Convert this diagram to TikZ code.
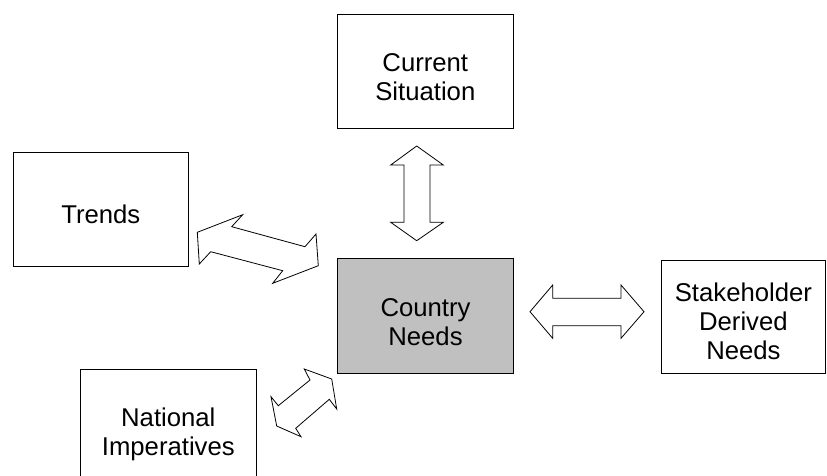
\documentclass[tikz,border=0pt]{standalone}
\usepackage{fontspec}
\setmainfont{Liberation Sans}
\definecolor{cngray}{HTML}{C0C0C0}
\begin{document}
\begin{tikzpicture}[x=1pt,y=-1pt,
  box/.style={draw=black, line width=0.8pt, rectangle, inner sep=0pt, fill=white},
  lbl/.style={inner sep=0pt, align=center, font=\fontsize{25.7}{29}\selectfont},
  blockarrow/.style={draw=black, fill=white, line width=0.8pt, line join=miter}]
\useasboundingbox (0,0) rectangle (827,475);
\fill[white] (0,0) rectangle (827,475);

% boxes
\node[box, minimum width=176pt, minimum height=114.3pt] (cur) at (425.3,71.2) {};
\node[box, minimum width=175pt, minimum height=113.3pt] (trends) at (100.8,209.4) {};
\node[box, fill=cngray, minimum width=175.5pt, minimum height=115.3pt] (cn) at (425.5,315.7) {};
\node[box, minimum width=163.3pt, minimum height=113.3pt] (sh) at (743.4,316.7) {};
\node[box, minimum width=175.3pt, minimum height=114pt] (nat) at (168.3,426) {};

% labels
\node[lbl] (curt) at (425.3,77.5) {Current\\Situation};
\node[lbl] (trendst) at (100.8,214.4) {Trends};
\node[lbl] (cnt) at (425.5,322) {Country\\Needs};
\node[lbl] (sht) at (743.4,321.7) {Stakeholder\\Derived\\Needs};
\node[lbl] (natt) at (168.3,434) {National\\Imperatives};

% vertical double arrow
\draw[blockarrow] (416.7,146) -- (443.3,165) -- (430,165) -- (430,222.3) -- (443.3,222.3)
  -- (416.7,240.7) -- (390.7,222.3) -- (404,222.3) -- (404,165) -- (390.7,165) -- cycle;

% horizontal double arrow
\draw[blockarrow] (530,311.7) -- (552.7,285) -- (552.7,298.3) -- (621,298.3) -- (621,285)
  -- (644,311.7) -- (621,338.3) -- (621,325.7) -- (552.7,325.7) -- (552.7,338.3) -- cycle;

% trends double arrow
\draw[blockarrow] (197.3,232.3) -- (242.7,214.7) -- (231.7,226.7) -- (305,246.7) -- (316,234)
  -- (318.3,265.7) -- (272.7,283.3) -- (282.7,270.7) -- (210.7,251.7) -- (199.3,264) -- cycle;

% national double arrow
\draw[blockarrow] (331.7,379) -- (336.7,409) -- (329.3,399.3) -- (295.7,428.3) -- (301,436.7)
  -- (276.7,426) -- (271,396.7) -- (278.3,405.7) -- (310,380) -- (304.3,369) -- cycle;
\end{tikzpicture}
\end{document}
